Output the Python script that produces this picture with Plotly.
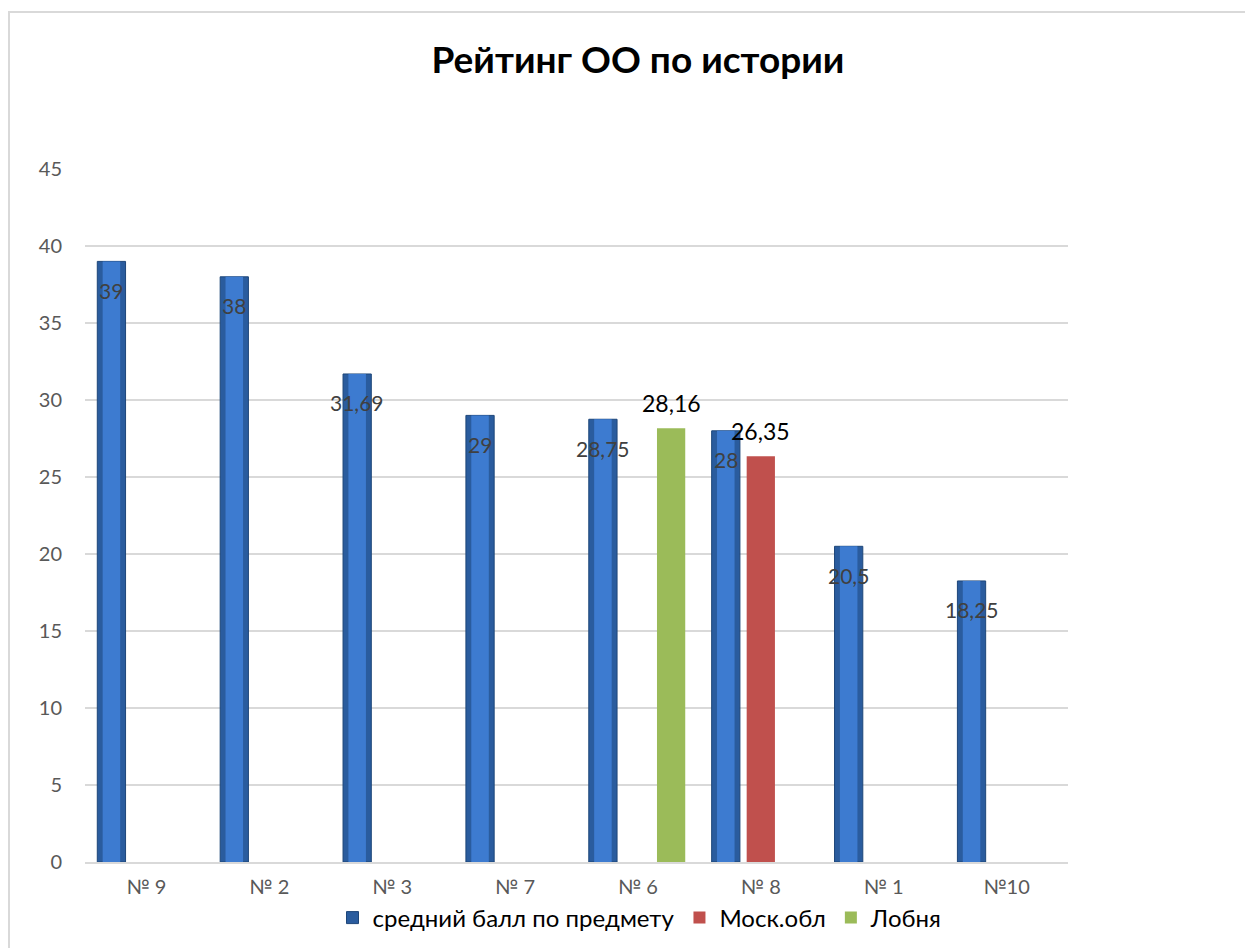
import plotly.graph_objects as go

categories = ["№ 9", "№ 2", "№ 3", "№ 7", "№ 6", "№ 8", "№ 1", "№10"]
avg_scores = [39, 38, 31.69, 29, 28.75, 28, 20.5, 18.25]
mosobl = [None, None, None, None, None, 26.35, None, None]
lobnya = [None, None, None, None, 28.16, None, None, None]
y_ticks = [0, 5, 10, 15, 20, 25, 30, 35, 40, 45]


def fmt(v):
    s = ("%.2f" % v).rstrip("0").rstrip(".")
    return s.replace(".", ",")


FONT = "Lato, 'Open Sans', sans-serif"
BW = 0.23
OFF_BLUE, OFF_RED, OFF_GREEN = -0.285, 0.0, 0.27

fig = go.Figure()
# blue series (base + lighter inner layer imitating the cylinder gradient)
fig.add_trace(go.Bar(
    x=categories, y=avg_scores, name="средний балл по предмету",
    width=BW, offset=OFF_BLUE - BW / 2,
    marker=dict(color="#2a5c9e", line=dict(color="#1d4679", width=1)),
))
fig.add_trace(go.Bar(
    x=categories, y=avg_scores, showlegend=False, hoverinfo="skip",
    width=BW * 0.62, offset=OFF_BLUE - BW * 0.31,
    marker=dict(color="#3d7bd0", line=dict(width=0)),
))
fig.add_trace(go.Bar(
    x=categories, y=mosobl, name="Моск.обл",
    width=BW, offset=OFF_RED - BW / 2,
    marker=dict(color="#c0504d", line=dict(width=0)),
))
fig.add_trace(go.Bar(
    x=categories, y=lobnya, name="Лобня",
    width=BW, offset=OFF_GREEN - BW / 2,
    marker=dict(color="#9bbb59", line=dict(width=0)),
))

annotations = []
for i, v in enumerate(avg_scores):
    annotations.append(dict(x=i + OFF_BLUE, y=v, xref="x", yref="y", text=fmt(v),
                            showarrow=False, yshift=-29, yanchor="middle",
                            font=dict(size=21, color="#404040", family=FONT)))
for series, off in ((mosobl, OFF_RED), (lobnya, OFF_GREEN)):
    for i, v in enumerate(series):
        if v is None:
            continue
        annotations.append(dict(x=i + off, y=v, xref="x", yref="y", text=fmt(v),
                                showarrow=False, yshift=25, yanchor="middle",
                                font=dict(size=23, color="#000000", family=FONT)))

W, H = 1253, 948
ml, mr, mt, mb = 77, 193, 161, 94
pw, ph = W - ml - mr, H - mt - mb

fig.update_layout(
    width=W, height=H,
    margin=dict(l=ml, r=mr, t=mt, b=mb),
    paper_bgcolor="white", plot_bgcolor="white",
    font=dict(family=FONT, color="#595959", size=20),
    title=dict(text="<b>Рейтинг ОО по истории</b>", x=(630 - ml) / pw, xref="paper",
               xanchor="center", y=1 - 52 / H, yanchor="middle",
               font=dict(size=37, color="#000000", family=FONT)),
    barmode="overlay",
    yaxis=dict(range=[0, 45], tickvals=y_ticks, showgrid=True, gridcolor="#d9d9d9",
               gridwidth=1.5, zeroline=False, showline=False, ticks="",
               ticklabelstandoff=22, tickfont=dict(size=20, color="#595959")),
    xaxis=dict(showline=True, linecolor="#d9d9d9", linewidth=1.5, ticks="",
               range=[-0.5, 7.5], ticklabelstandoff=6,
               tickfont=dict(size=20, color="#595959")),
    legend=dict(orientation="h", x=(632 - ml) / pw, xanchor="center",
                y=-(910 - 854) / ph, yanchor="middle",
                bgcolor="rgba(0,0,0,0)",
                font=dict(size=24, color="#000000", family=FONT),
                itemwidth=30, traceorder="normal"),
    annotations=annotations,
    shapes=[dict(type="rect", xref="paper", yref="paper",
                 x0=(1 - ml) / pw, x1=(1270 - ml) / pw,
                 y0=-(970 - 854) / ph, y1=1 + (161 - 4) / ph,
                 line=dict(color="#d9d9d9", width=2), fillcolor="rgba(0,0,0,0)",
                 layer="below")],
)

fig.write_html("out.html")
